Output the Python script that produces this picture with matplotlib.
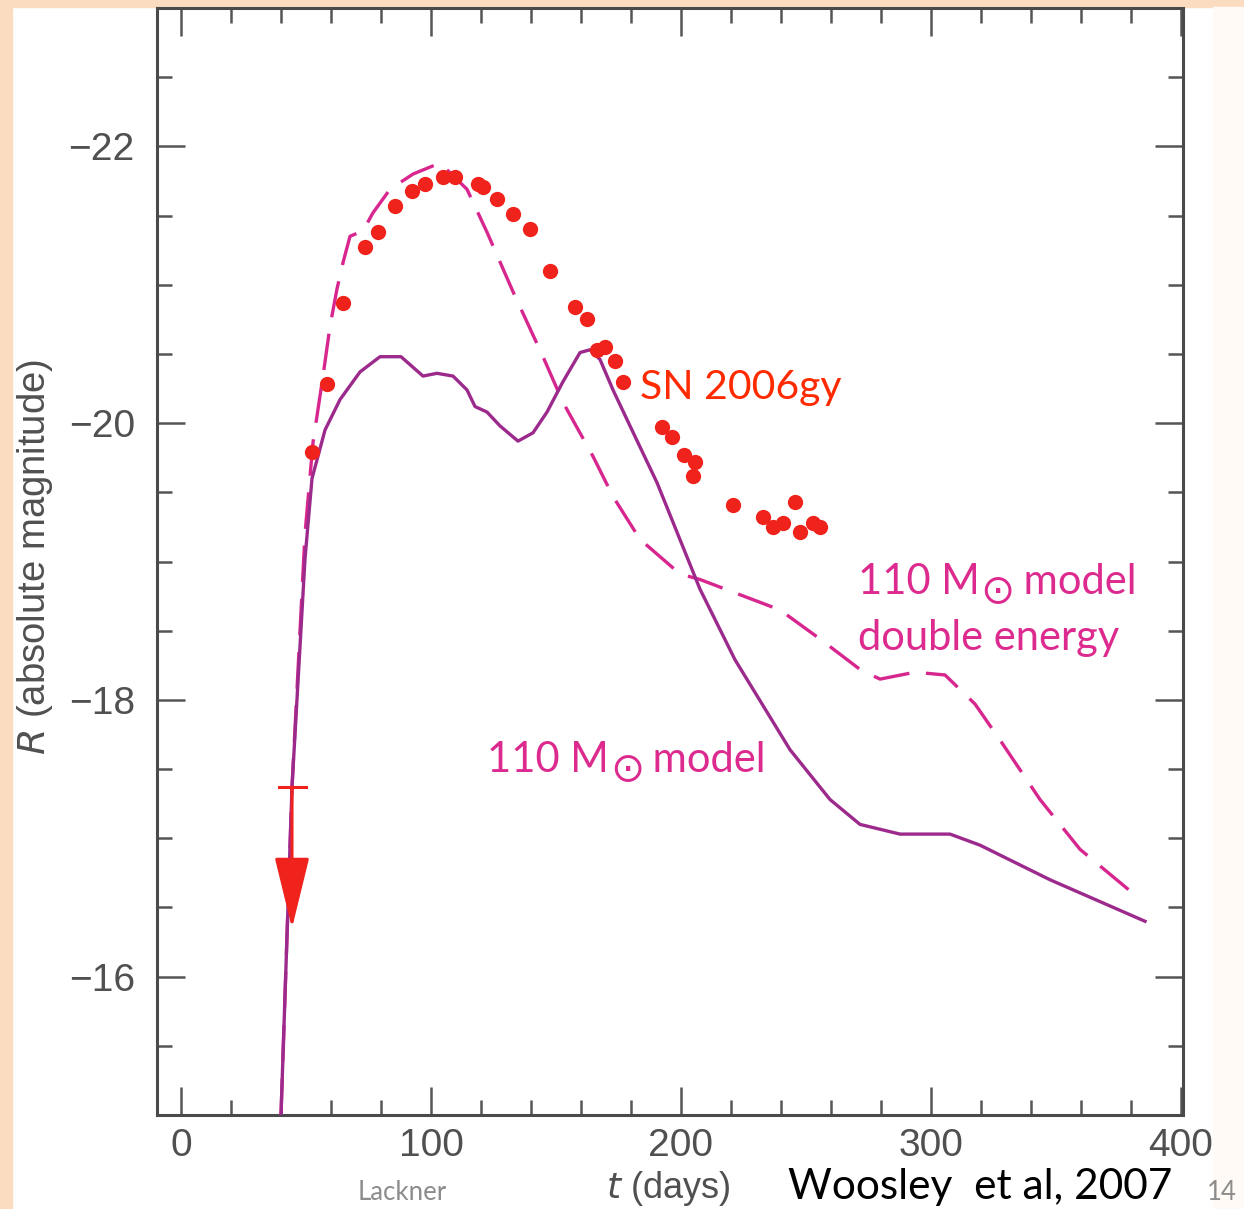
import numpy as np
import matplotlib
matplotlib.use("Agg")
import matplotlib.pyplot as plt
from matplotlib.ticker import MultipleLocator
from matplotlib.patches import Rectangle

# 110 Msun model (solid)
t_model = [40, 44.4, 49.6, 52.4, 57.6, 63.6, 71.6, 79.6, 88, 96.8, 102.4, 108.8, 114.4,
           117.6, 122.4, 127.6, 134.8, 140.8, 146.4, 152.8, 159.6, 163.6, 167.6, 172.8,
           179.6, 190.4, 207.6, 221.6, 243.6, 259.6, 271.6, 287.6, 307.6, 319.6, 347.6, 385.6]
r_model = [-15.0, -17.37, -19.02, -19.6, -19.95, -20.17, -20.37, -20.48, -20.48, -20.34,
           -20.36, -20.34, -20.24, -20.12, -20.08, -19.98, -19.87, -19.93, -20.08, -20.30,
           -20.51, -20.53, -20.46, -20.24, -19.98, -19.57, -18.80, -18.29, -17.64, -17.28,
           -17.10, -17.03, -17.03, -16.95, -16.70, -16.40]

# 110 Msun model, double energy (dashed)
t_double = [40, 44.4, 49.6, 52.8, 56.8, 59.6, 62.4, 64.8, 67.6, 72.8, 76.8, 83.6, 92.8,
            103.6, 114.4, 122.4, 132.8, 144.8, 152.8, 164.8, 172.8, 183.6, 199.6, 207.6,
            223.6, 239.6, 255.6, 271.6, 279.6, 293.6, 305.6, 317.6, 327.6, 343.6, 359.6, 383.6]
r_double = [-15.0, -17.37, -19.2, -19.86, -20.34, -20.70, -20.97, -21.16, -21.35, -21.39,
            -21.52, -21.69, -21.80, -21.88, -21.69, -21.38, -20.95, -20.48, -20.15, -19.76,
            -19.47, -19.16, -18.91, -18.87, -18.76, -18.65, -18.44, -18.22, -18.15, -18.20,
            -18.18, -17.97, -17.71, -17.28, -16.92, -16.56]

# SN 2006gy observations
t_obs = [52.4, 58.4, 64.8, 73.6, 78.8, 85.6, 92.4, 97.6, 104.8, 109.6, 118.8, 120.8,
         126.4, 132.8, 139.6, 147.6, 157.6, 162.4, 166.4, 169.6, 173.6, 176.8, 192.4,
         196.4, 201.2, 205.6, 204.8, 220.8, 232.8, 236.8, 240.8, 245.6, 247.6, 252.8, 255.6]
r_obs = [-19.79, -20.28, -20.87, -21.27, -21.38, -21.57, -21.68, -21.73, -21.78, -21.78,
         -21.73, -21.71, -21.62, -21.51, -21.40, -21.10, -20.84, -20.75, -20.53, -20.55,
         -20.45, -20.30, -19.97, -19.90, -19.77, -19.72, -19.62, -19.41, -19.32, -19.25,
         -19.28, -19.43, -19.21, -19.28, -19.25]

# upper limit
t_lim = 44.4
r_lim = -17.37
r_lim_end = -16.35

W, H = 1244, 1209
fig = plt.figure(figsize=(W / 100, H / 100), dpi=100)
fig.patch.set_facecolor("white")

peach = "#fcdcc0"
fig.patches.append(Rectangle((0, 0), 12 / W, 1, transform=fig.transFigure, color=peach, zorder=-5))
fig.patches.append(Rectangle((0, 1 - 7 / H), 1, 7 / H, transform=fig.transFigure, color=peach, zorder=-5))
fig.patches.append(Rectangle((1213 / W, 0), 1, 1 - 7 / H, transform=fig.transFigure, color="#fffaf5", zorder=-4))

ax = fig.add_axes([157 / W, 1 - 1115 / H, (1183 - 157) / W, (1115 - 8) / H])
ax.set_xlim(-9.6, 400.8)
ax.set_ylim(-15.0, -23.0)

c_solid = "#9c2a8c"
c_dash = "#d8268f"
c_red = "#f0221c"

ax.plot(t_double, r_double, color=c_dash, lw=2.4, dashes=(11, 5), zorder=3)
ax.plot(t_model, r_model, color=c_solid, lw=2.4, zorder=3.5)
ax.plot(t_obs, r_obs, "o", color=c_red, ms=11, mec="none", zorder=4)

ax.plot([t_lim - 5.4, t_lim + 5.4], [r_lim, r_lim], color=c_red, lw=2.2, zorder=5)
ax.annotate("", xy=(t_lim, r_lim_end), xytext=(t_lim, r_lim),
            arrowprops=dict(arrowstyle="-|>,head_length=4.5,head_width=1.1",
                            color=c_red, lw=2.2, shrinkA=0, shrinkB=0), zorder=5)

ax.xaxis.set_major_locator(MultipleLocator(100))
ax.xaxis.set_minor_locator(MultipleLocator(20))
ax.yaxis.set_major_locator(MultipleLocator(2))
ax.yaxis.set_minor_locator(MultipleLocator(0.5))
ax.tick_params(which="both", direction="in", top=True, right=True, color="#555555", width=1.8)
ax.tick_params(which="major", length=20)
ax.tick_params(which="minor", length=11)
ax.tick_params(axis="y", which="major", pad=16, labelsize=28, labelcolor="#505050")
ax.tick_params(axis="x", which="major", pad=9, labelsize=28, labelcolor="#505050")
for lab in ax.get_xticklabels() + ax.get_yticklabels():
    lab.set_family("Liberation Sans")
for s in ax.spines.values():
    s.set_linewidth(2.2)
    s.set_color("#4a4a4a")

fig.text(35 / W, 1 - 557 / H, r"$R$ (absolute magnitude)", rotation=90, ha="center", va="center",
         fontsize=27.5, color="#505050", family="Liberation Sans")
fig.text(668 / W, 1 - 1189 / H, r"$t$ (days)", ha="center", va="center",
         fontsize=26, color="#505050", family="Liberation Sans")

cal = ["Lato", "DejaVu Sans"]
pink = "#dc2a8e"
renderer = fig.canvas.get_renderer()


def msun_label(x_px, y_px, size=30):
    # "110 M" + sun symbol sitting low + " model", placed piece by piece
    y = 1 - y_px / H
    t1 = fig.text(x_px / W, y, "110 M", ha="left", va="baseline", fontsize=size,
                  color=pink, family=cal)
    x1 = t1.get_window_extent(renderer).x1 + 1
    t2 = fig.text(x1 / W, y - 9 / H, "\u2299", ha="left", va="baseline", fontsize=size * 0.98,
                  color=pink, family="DejaVu Sans")
    x2 = t2.get_window_extent(renderer).x1 - 2
    fig.text(x2 / W, y, " model", ha="left", va="baseline", fontsize=size,
             color=pink, family=cal)


fig.text(640 / W, 1 - 388 / H, "SN 2006gy", ha="left", va="center",
         fontsize=29.5, color="#ff2a00", family=cal)
msun_label(858, 594)
fig.text(858 / W, 1 - 638 / H, "double energy", ha="left", va="center",
         fontsize=30, color=pink, family=cal)
msun_label(487, 772)

fig.text(402 / W, 1 - 1192 / H, "Lackner", ha="center", va="center", fontsize=18.5,
         color="#8c8c8c", family=cal)
fig.text(788 / W, 1 - 1187 / H, "Woosley  et al, 2007", ha="left", va="center", fontsize=30.5,
         color="black", family=cal)
fig.text(1222 / W, 1 - 1192 / H, "14", ha="center", va="center", fontsize=18.5,
         color="#8c8c8c", family=cal)

fig.savefig("out.png", dpi=100)
